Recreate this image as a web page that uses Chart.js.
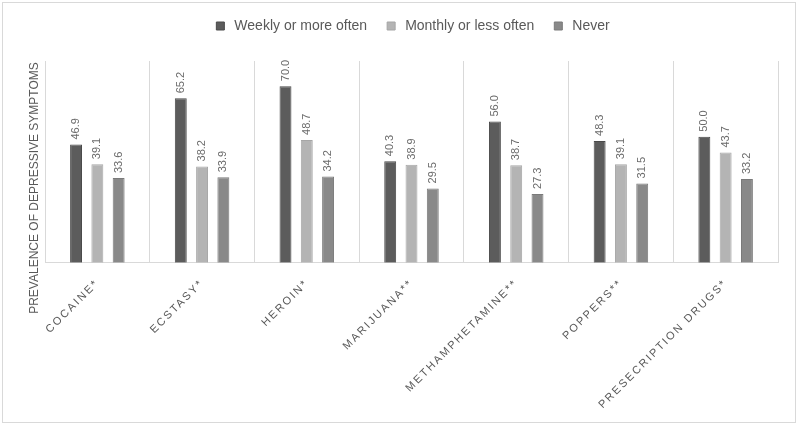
<!DOCTYPE html>
<html>
<head>
<meta charset="utf-8">
<script src="https://cdn.jsdelivr.net/npm/chart.js@4/dist/chart.umd.min.js"></script>
<style>
  html, body { margin: 0; padding: 0; background: #fff; }
  #wrap { position: relative; width: 800px; height: 425px; }
  #frame { position: absolute; left: 2px; top: 2px; width: 792px; height: 419px; border: 1px solid #d9d9d9; pointer-events: none; }
</style>
</head>
<body>
<div id="wrap">
  <canvas id="barChart" width="800" height="425"></canvas>
  <div id="frame"></div>
</div>
<script>
// Prevalence of depressive symptoms by drug use frequency

const drugs = ["COCAINE*", "ECSTASY*", "HEROIN*", "MARIJUANA**", "METHAMPHETAMINE**", "POPPERS**", "PRESECRIPTION DRUGS*"];
const weekly = [46.9, 65.2, 70.0, 40.3, 56.0, 48.3, 50.0];
const monthly = [39.1, 38.2, 48.7, 38.9, 38.7, 39.1, 43.7];
const never = [33.6, 33.9, 34.2, 29.5, 27.3, 31.5, 33.2];
const yTitle = "PREVALENCE OF DEPRESSIVE SYMPTOMS";

const textGrey = '#595959';
const font = "'Liberation Sans', Arial, sans-serif";

// value labels above bars, rotated, plus letter spacing for the x labels
const barLabels = {
    id: 'barLabels',
    afterInit(chart) {
        // leave some room between the legend and the plot
        const legend = chart.legend;
        if (legend && !legend._patched) {
            const fit = legend.fit;
            legend.fit = function () {
                fit.call(this);
                this.height += 18;
            };
            legend._patched = true;
        }
    },
    afterDatasetsDraw(chart) {
        const ctx = chart.ctx;
        ctx.save();
        ctx.font = "11px " + font;
        ctx.fillStyle = '#6b6b6b';
        ctx.textAlign = 'left';
        ctx.textBaseline = 'middle';
        chart.data.datasets.forEach((ds, i) => {
            chart.getDatasetMeta(i).data.forEach((bar, j) => {
                ctx.save();
                ctx.translate(bar.x, bar.y - 5);
                ctx.rotate(-Math.PI / 2);
                ctx.fillText(ds.data[j].toFixed(1), 0, 0);
                ctx.restore();
            });
        });
        ctx.restore();

        // y axis title
        ctx.save();
        ctx.font = "12px " + font;
        ctx.fillStyle = textGrey;
        ctx.textAlign = 'center';
        ctx.textBaseline = 'middle';
        ctx.translate(35, 188);
        ctx.rotate(-Math.PI / 2);
        ctx.fillText(yTitle, 0, 0);
        ctx.restore();

        ctx.letterSpacing = '2px';
    },
    afterDraw(chart) {
        chart.ctx.letterSpacing = '0px';
    }
};

new Chart(document.getElementById("barChart"), {
    type: 'bar',
    data: {
        labels: drugs,
        datasets: [{
            label: "Weekly or more often",
            data: weekly,
            backgroundColor: '#5c5c5c',
            borderColor: '#4a4a4a',
            borderWidth: 1
        }, {
            label: "Monthly or less often",
            data: monthly,
            backgroundColor: '#b4b4b4',
            borderColor: '#a6a6a6',
            borderWidth: 1
        }, {
            label: "Never",
            data: never,
            backgroundColor: '#898989',
            borderColor: '#7a7a7a',
            borderWidth: 1
        }]
    },
    options: {
        responsive: false,
        animation: false,
        categoryPercentage: 0.61,
        barPercentage: 0.56,
        layout: {
            padding: { left: 45, right: 22, top: 2, bottom: 4 }
        },
        plugins: {
            legend: {
                position: 'top',
                labels: {
                    color: textGrey,
                    font: { family: font, size: 14 },
                    usePointStyle: true,
                    pointStyle: 'rect',
                    boxWidth: 14,
                    boxHeight: 8,
                    padding: 17
                }
            },
            tooltip: { enabled: false }
        },
        scales: {
            x: {
                grid: {
                    offset: true,
                    color: '#d9d9d9',
                    drawTicks: false
                },
                border: { color: '#d9d9d9' },
                ticks: {
                    z: 1,
                    color: textGrey,
                    font: { family: font, size: 11 },
                    maxRotation: 45,
                    minRotation: 45,
                    padding: 14
                },
                afterFit(scale) {
                    scale.height += 24;
                }
            },
            y: {
                display: false,
                min: 0,
                max: 80
            }
        }
    },
    plugins: [barLabels]
});
</script>
</body>
</html>
